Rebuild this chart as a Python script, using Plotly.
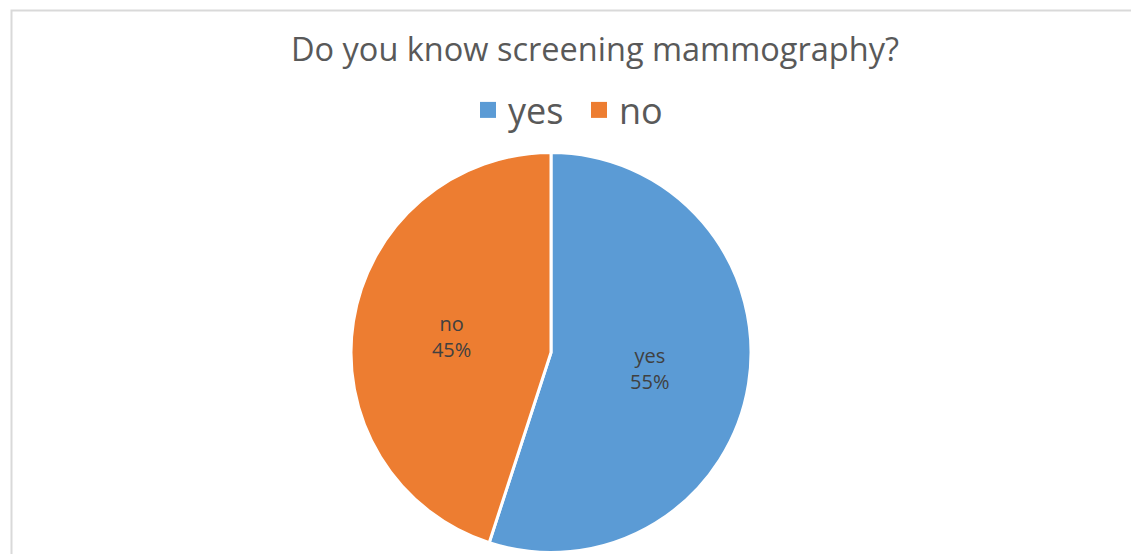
import plotly.graph_objects as go

# survey answers
labels = ["yes", "no"]
shares = [55, 45]
colors = ["#5B9BD5", "#ED7D31"]

W, H = 1131, 554

fig = go.Figure()
fig.add_trace(
    go.Pie(
        labels=labels,
        values=shares,
        sort=False,
        direction="clockwise",
        rotation=0,
        marker=dict(colors=colors, line=dict(color="white", width=3)),
        textinfo="label+percent",
        textposition="inside",
        insidetextorientation="horizontal",
        textfont=dict(size=20, color="#404040", family="Open Sans"),
        domain=dict(x=[351 / W, 751 / W], y=[1 - 553 / H, 1 - 152 / H]),
        hoverinfo="label+percent",
        showlegend=False,
    )
)

# legend entries with bigger square swatches than the pie legend allows
for name, col in zip(labels, colors):
    fig.add_trace(
        go.Scatter(
            x=[None],
            y=[None],
            mode="markers",
            name=name,
            marker=dict(symbol="square", size=20, color=col),
            hoverinfo="skip",
        )
    )

fig.update_layout(
    width=W,
    height=H,
    margin=dict(l=0, r=0, t=0, b=0),
    paper_bgcolor="white",
    plot_bgcolor="white",
    font=dict(family="Open Sans", color="#595959"),
    xaxis=dict(visible=False),
    yaxis=dict(visible=False),
    title=dict(
        text="Do you know screening mammography?",
        x=595 / W,
        xanchor="center",
        y=1 - 50 / H,
        yanchor="middle",
        font=dict(size=32.5, color="#595959"),
    ),
    legend=dict(
        orientation="h",
        x=579 / W,
        xanchor="center",
        y=1 - 110 / H,
        yanchor="middle",
        font=dict(size=36, color="#595959"),
        itemsizing="trace",
        entrywidth=66,
    ),
    shapes=[
        dict(
            type="path",
            xref="paper",
            yref="paper",
            path=f"M {11.5 / W} 0 L {11.5 / W} {1 - 10.5 / H} L 1 {1 - 10.5 / H}",
            line=dict(color="#D9D9D9", width=2),
        )
    ],
)

fig.write_html(
    "out.html",
    config={"displayModeBar": False},
    post_script="document.body.style.margin='0';",
)
